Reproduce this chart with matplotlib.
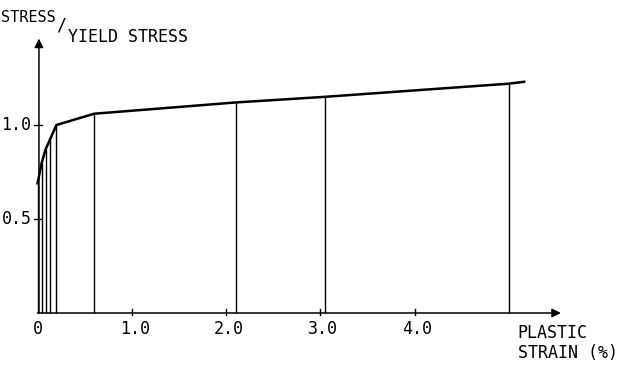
import matplotlib.pyplot as plt

# curve points (plastic strain in %, stress / yield stress)
strain = [0, 0.045, 0.085, 0.13, 0.2, 0.6, 2.1, 3.05, 5.0, 5.16]
stress = [0.69, 0.80, 0.87, 0.92, 1.0, 1.06, 1.12, 1.15, 1.22, 1.23]

# the vertical lines drop from these points
vline_strain = strain[:-1]
vline_stress = stress[:-1]

xticks = [1.0, 2.0, 3.0, 4.0]
xtick_labels = ["1.0", "2.0", "3.0", "4.0"]
yticks = [0.5, 1.0]
ytick_labels = ["0.5", "1.0"]

plt.rcParams['font.family'] = ['DejaVu Sans Mono']
fs = 12

fig = plt.figure(figsize=(6.17, 3.71), dpi=100)
ax = fig.add_axes([0, 0, 1, 1])
ax.set_xlim(-0.398, 6.145)
ax.set_ylim(-0.3085, 1.665)
ax.axis('off')

# axes with arrows
arrow = dict(arrowstyle='-|>', lw=1.1, color='k', mutation_scale=13, shrinkA=0, shrinkB=0)
ax.annotate('', xy=(5.55, 0), xytext=(0, 0), arrowprops=arrow)
ax.annotate('', xy=(0.015, 1.46), xytext=(0.015, 0), arrowprops=arrow)

# curve and verticals
ax.plot(strain, stress, color='k', lw=1.8, solid_joinstyle='round')
ax.vlines(vline_strain, 0, vline_stress, color='k', lw=1.0)

# ticks
for x, lab in zip(xticks, xtick_labels):
    ax.plot([x, x], [-0.012, 0.022], color='k', lw=1.0)
    ax.text(x + 0.03, -0.085, lab, ha='center', va='center', fontsize=fs)
ax.text(0.0, -0.085, "0", ha='center', va='center', fontsize=fs)
for y, lab in zip(yticks, ytick_labels):
    ax.plot([-0.035, 0.05], [y, y], color='k', lw=1.0)
    ax.text(-0.065, y, lab, ha='right', va='center', fontsize=fs)

# labels
ax.text(-0.392, 1.574, "STRESS", ha='left', va='center', fontsize=11)
ax.text(0.249, 1.53, "/", ha='center', va='center', fontsize=fs)
ax.text(0.325, 1.468, "YIELD STRESS", ha='left', va='center', fontsize=fs)
ax.text(5.09, -0.16, "PLASTIC\nSTRAIN (%)", ha='left', va='center', fontsize=fs,
        linespacing=1.1)

fig.savefig("out.png", dpi=100)
